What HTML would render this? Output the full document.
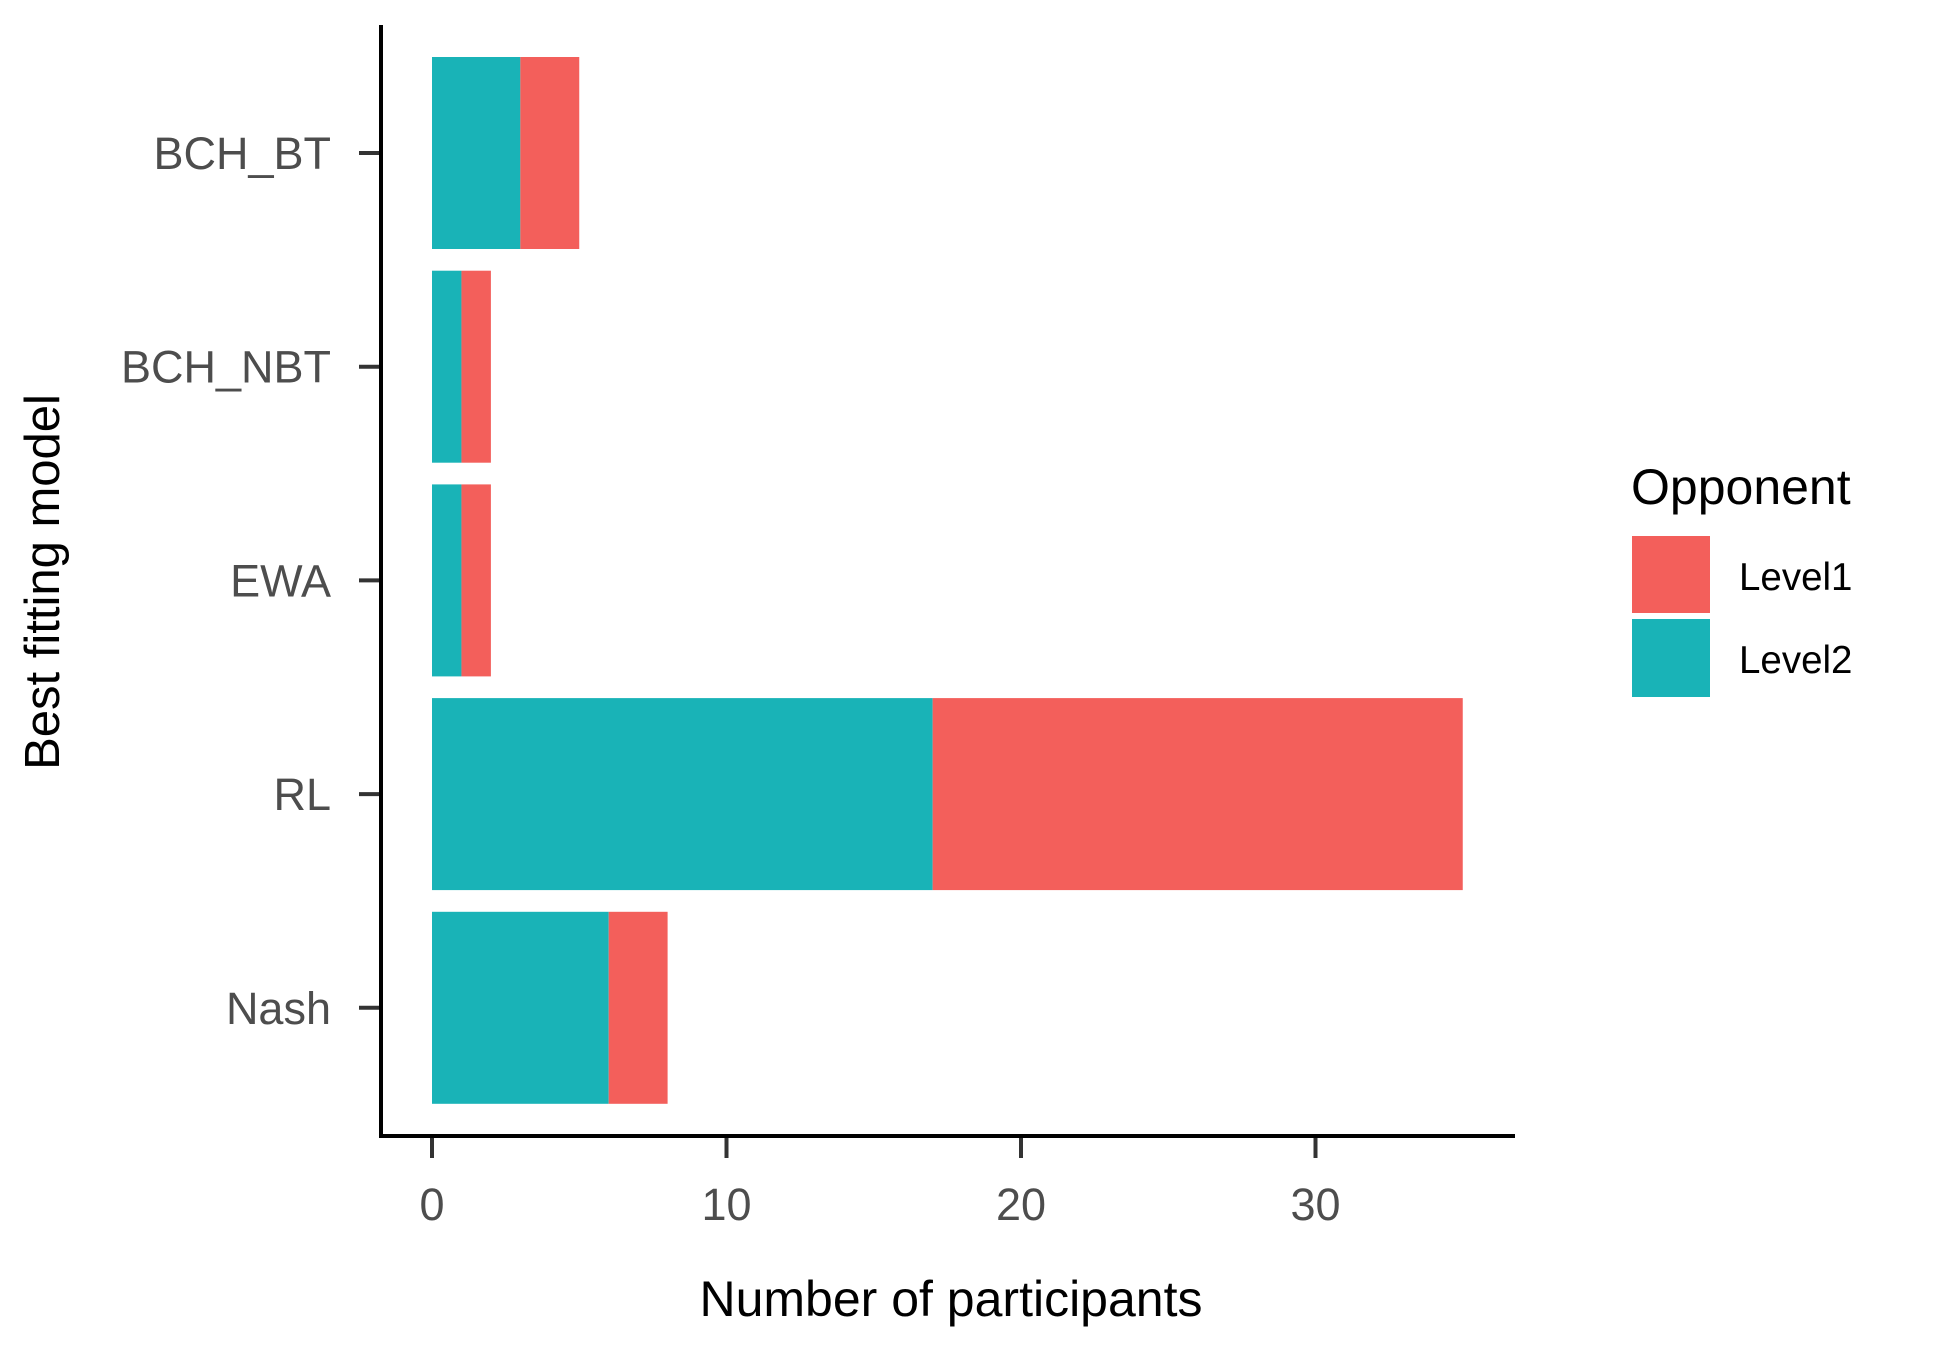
<!DOCTYPE html>
<html><head><meta charset="utf-8"><style>
html,body{margin:0;padding:0;background:#fff;}
svg{display:block;font-family:"Liberation Sans",Arial,sans-serif;}
</style></head><body>
<svg id="chart" width="1950" height="1350" viewBox="0 0 1950 1350" xmlns="http://www.w3.org/2000/svg">
<g id="bars"></g>
<g id="axes"></g>
<text x="951" y="1316" font-size="50" text-anchor="middle" fill="#000">Number of participants</text>
<text transform="translate(59,582) rotate(-90)" font-size="49" text-anchor="middle" fill="#000">Best fitting model</text>
<g>
<text x="1631" y="504" font-size="50" fill="#000">Opponent</text>
<rect x="1632" y="536" width="78" height="77" fill="#F35F5B"/>
<rect x="1632" y="619" width="78" height="78" fill="#19B3B7"/>
<text x="1739" y="590" font-size="38.5" fill="#000">Level1</text>
<text x="1739" y="673" font-size="38.5" fill="#000">Level2</text>
</g>
</svg>
<script>
const categories = ["BCH_BT","BCH_NBT","EWA","RL","Nash"];
const level2 = [3,1,1,17,6];
const level1 = [2,1,1,18,2];
const xTicks = [0,10,20,30];

const NS="http://www.w3.org/2000/svg";
const x0=432, pxPerUnit=29.45;
const xs=v=>x0+v*pxPerUnit;
const firstCenter=153, bandStep=213.7, barH=192;
const yc=i=>firstCenter+bandStep*i;
function mk(tag,attrs,parent){const e=document.createElementNS(NS,tag);for(const k in attrs)e.setAttribute(k,attrs[k]);parent.appendChild(e);return e;}
const bars=document.getElementById('bars'), axes=document.getElementById('axes');
categories.forEach((c,i)=>{
  const top=yc(i)-barH/2;
  const r2=mk('rect',{x:xs(0),y:top,width:xs(level2[i])-xs(0),height:barH,fill:'#19B3B7'},bars);
  
  
  const r1=mk('rect',{x:xs(level2[i]),y:top,width:xs(level2[i]+level1[i])-xs(level2[i]),height:barH,fill:'#F35F5B'},bars);
  
  
  const t=mk('line',{x1:359,x2:381,y1:yc(i),y2:yc(i),stroke:'#333','stroke-width':4},axes);
  
  
  const l=mk('text',{x:331,y:yc(i)+16,'font-size':45,'text-anchor':'end',fill:'#4d4d4d'},axes);
  l.textContent=c;
  
  
});
xTicks.forEach(v=>{
  const t=mk('line',{x1:xs(v),x2:xs(v),y1:1136,y2:1158,stroke:'#333','stroke-width':4},axes);
  
  
  const l=mk('text',{x:xs(v),y:1220,'font-size':45,'text-anchor':'middle',fill:'#4d4d4d'},axes);
  l.textContent=v;
  
  
});
const ya=mk('line',{x1:381,x2:381,y1:25,y2:1138,stroke:'#000','stroke-width':4},axes);


const xa=mk('line',{x1:379,x2:1515,y1:1136,y2:1136,stroke:'#000','stroke-width':4},axes);


</script>
</body></html>
